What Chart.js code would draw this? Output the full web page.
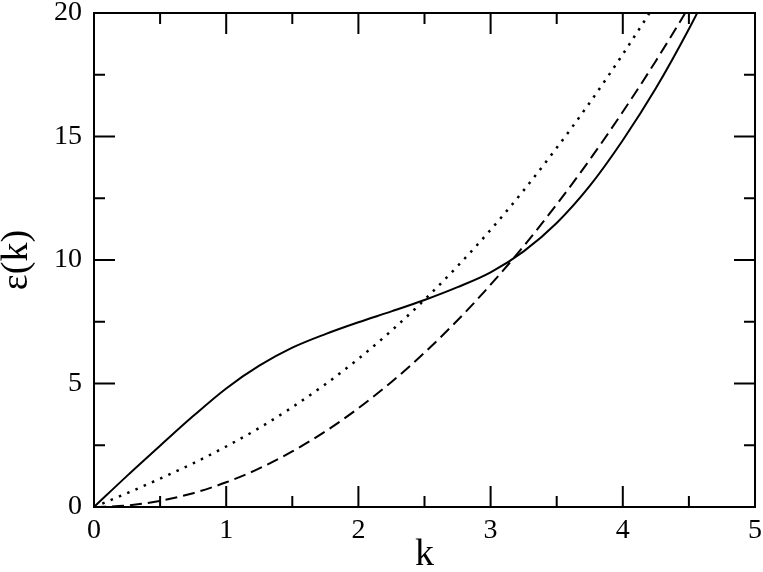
<!DOCTYPE html>
<html>
<head>
<meta charset="utf-8">
<script src="https://cdn.jsdelivr.net/npm/chart.js@4.4.1/dist/chart.umd.min.js"></script>
<style>
  html, body { margin: 0; padding: 0; background: #fff; }
  #wrap { width: 763px; height: 572px; }
</style>
</head>
<body>
<div id="wrap"><canvas id="chart"></canvas></div>
<script>
// ------------------------------------
// DATA
// ------------------------------------
const kValues = [0, 0.25, 0.5, 0.75, 1, 1.25, 1.5, 1.75, 2, 2.25, 2.5, 2.75, 3, 3.25, 3.5, 3.75, 4, 4.25, 4.5, 4.75];
const solidE  = [0, 1.26, 2.48, 3.68, 4.80, 5.72, 6.45, 7.00, 7.48, 7.92, 8.38, 8.90, 9.50, 10.35, 11.5, 13.0, 14.85, 16.95, 19.35, 22.0];
const dottedE = [0, 0.56, 1.15, 1.77, 2.45, 3.20, 4.04, 4.97, 6.00, 7.14, 8.39, 9.75, 11.22, 12.82, 14.54, 16.37, 18.33, 20.41, 22.6, 24.9];
const dashedE = [0, 0.06, 0.25, 0.56, 1.00, 1.56, 2.25, 3.06, 4.00, 5.06, 6.25, 7.56, 9.00, 10.56, 12.25, 14.06, 16.00, 18.06, 20.25, 22.56];

const xTicks = [0, 1, 2, 3, 4, 5];
const yTicks = [0, 5, 10, 15, 20];
const xMinor = [0.5, 1.5, 2.5, 3.5, 4.5];
const yMinor = [2.5, 7.5, 12.5, 17.5];

const pts = (ys) => kValues.map((k, i) => ({ x: k, y: ys[i] }));

// ------------------------------------
// FRAME + INWARD TICKS (grace style)
// ------------------------------------
const frameTicks = {
  id: "frameTicks",
  afterDatasetsDraw(chart) {
    const { ctx, chartArea: a, scales } = chart;
    const x = scales.x, y = scales.y;
    ctx.save();
    ctx.strokeStyle = "#000";
    ctx.lineWidth = 2;
    ctx.beginPath();
    const vtick = (v, len) => {
      const px = x.getPixelForValue(v);
      ctx.moveTo(px, a.bottom); ctx.lineTo(px, a.bottom - len);
      ctx.moveTo(px, a.top); ctx.lineTo(px, a.top + len);
    };
    const htick = (v, len) => {
      const py = y.getPixelForValue(v);
      ctx.moveTo(a.left, py); ctx.lineTo(a.left + len, py);
      ctx.moveTo(a.right, py); ctx.lineTo(a.right - len, py);
    };
    xTicks.forEach((v) => vtick(v, 21));
    xMinor.forEach((v) => vtick(v, 11));
    yTicks.forEach((v) => htick(v, 21));
    yMinor.forEach((v) => htick(v, 11));
    ctx.stroke();
    ctx.strokeRect(a.left, a.top, a.right - a.left, a.bottom - a.top);
    ctx.restore();
  },
};

const serif = "'Liberation Serif', 'Times New Roman', serif";

new Chart(document.getElementById("chart"), {
  type: "line",
  data: {
    datasets: [
      {
        label: "solid",
        data: pts(solidE),
        borderColor: "#000",
        borderWidth: 2,
        pointRadius: 0,
        cubicInterpolationMode: "monotone",
      },
      {
        label: "dotted",
        data: pts(dottedE),
        borderColor: "#000",
        borderWidth: 2.5,
        borderDash: [2.5, 6.5],
        pointRadius: 0,
        cubicInterpolationMode: "monotone",
      },
      {
        label: "dashed",
        data: pts(dashedE),
        borderColor: "#000",
        borderWidth: 2,
        borderDash: [12, 6],
        pointRadius: 0,
        cubicInterpolationMode: "monotone",
      },
    ],
  },
  options: {
    responsive: true,
    maintainAspectRatio: false,
    animation: false,
    layout: { padding: { left: 0, top: 13, right: 8, bottom: 0 } },
    plugins: { legend: { display: false }, tooltip: { enabled: false } },
    scales: {
      x: {
        type: "linear",
        min: 0,
        max: 5,
        grid: { display: false, drawTicks: false },
        border: { display: false },
        afterBuildTicks: (s) => { s.ticks = xTicks.map((v) => ({ value: v })); },
        afterFit: (s) => { s.height = 65; s.paddingLeft = 0; s.paddingRight = 0; },
        ticks: { color: "#000", padding: 7, maxRotation: 0, font: { family: serif, size: 28 } },
        title: {
          display: true,
          text: "k",
          color: "#000",
          padding: { top: 0, bottom: -2 },
          font: { family: serif, size: 38, lineHeight: 1 },
        },
      },
      y: {
        type: "linear",
        min: 0,
        max: 20,
        grid: { display: false, drawTicks: false },
        border: { display: false },
        afterBuildTicks: (s) => { s.ticks = yTicks.map((v) => ({ value: v })); },
        afterFit: (s) => { s.width = 94; s.paddingTop = 0; s.paddingBottom = 0; },
        ticks: { color: "#000", padding: 12, font: { family: serif, size: 28 } },
        title: {
          display: true,
          text: "ε(k)",
          color: "#000",
          padding: { top: -2, bottom: 0 },
          font: { family: serif, size: 38, lineHeight: 1 },
        },
      },
    },
  },
  plugins: [frameTicks],
});
</script>
</body>
</html>
